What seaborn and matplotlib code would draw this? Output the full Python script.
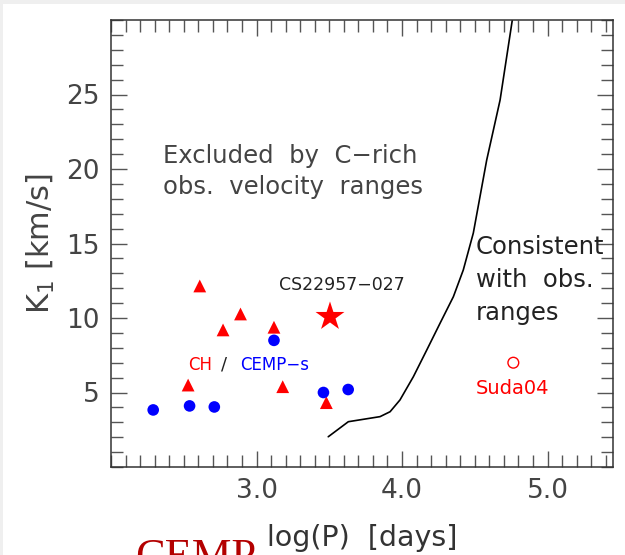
import numpy as np
import pandas as pd
import seaborn as sns
import matplotlib.pyplot as plt
from matplotlib.patches import Rectangle
from matplotlib.ticker import FixedLocator, MultipleLocator

# CEMP-s binaries (blue circles)
cemp_logp = [2.29, 2.54, 2.71, 3.12, 3.46, 3.63]
cemp_k1 = [3.83, 4.10, 4.03, 8.50, 5.00, 5.20]

# CH stars (red triangles)
ch_logp = [2.53, 2.61, 2.77, 2.89, 3.12, 3.18, 3.48]
ch_k1 = [5.50, 12.15, 9.20, 10.27, 9.38, 5.39, 4.32]

# CS22957-027 and Suda04
star_logp = [3.505]
star_k1 = [10.09]
suda_logp = [4.765]
suda_k1 = [7.0]

# boundary between excluded / consistent regions
curve_logp = [3.493, 3.631, 3.849, 3.918, 3.986, 4.078, 4.170, 4.261,
              4.353, 4.421, 4.490, 4.582, 4.674, 4.758]
curve_k1 = [2.03, 3.04, 3.38, 3.71, 4.50, 6.06, 7.85, 9.64,
            11.43, 13.22, 15.70, 20.60, 24.63, 30.0]

df_cemp = pd.DataFrame({'logP': cemp_logp, 'K1': cemp_k1})
df_ch = pd.DataFrame({'logP': ch_logp, 'K1': ch_k1})
df_curve = pd.DataFrame({'logP': curve_logp, 'K1': curve_k1})

sns.set_theme(style='ticks')
plt.rcParams['font.family'] = ['DejaVu Sans']

fig = plt.figure(figsize=(6.25, 5.55), dpi=100, facecolor='#efefef')
fig.patches.append(Rectangle((3 / 625, 0), 1, 1 - 4 / 555, transform=fig.transFigure,
                             facecolor='white', edgecolor='none', zorder=-10))
ax = fig.add_axes([111 / 625, 88 / 555, 502 / 625, 447 / 555])

sns.lineplot(data=df_curve, x='logP', y='K1', sort=False, color='black', lw=1.2,
             estimator=None, ax=ax)
sns.scatterplot(data=df_ch, x='logP', y='K1', marker='^', s=85, color='#ff0000',
                edgecolor='none', ax=ax, zorder=3)
sns.scatterplot(data=df_cemp, x='logP', y='K1', marker='o', s=70, color='#0000ff',
                edgecolor='none', ax=ax, zorder=4)
ax.scatter(star_logp, star_k1, marker='*', s=480, color='#ff0000', edgecolor='none', zorder=4)
ax.scatter(suda_logp, suda_k1, marker='o', s=60, facecolor='none', edgecolor='#ff0000',
           linewidth=1.0, zorder=4)

ax.set_xlim(2.0, 5.45)
ax.set_ylim(0, 30)
ax.xaxis.set_major_locator(FixedLocator([3.0, 4.0, 5.0]))
ax.xaxis.set_minor_locator(MultipleLocator(0.1))
ax.yaxis.set_major_locator(FixedLocator([5, 10, 15, 20, 25]))
ax.yaxis.set_minor_locator(MultipleLocator(1))
ax.set_xticklabels(['3.0', '4.0', '5.0'])
ax.tick_params(which='both', direction='in', top=True, right=True, color='#555555',
               width=1.0, labelsize=19, labelcolor='#444444')
ax.tick_params(which='major', length=11.5, pad=8)
ax.tick_params(which='minor', length=8.5)
for sp in ax.spines.values():
    sp.set_color('#333333')
    sp.set_linewidth(1.1)

ax.set_xlabel('log(P)  [days]', fontsize=20.5, color='#333333', labelpad=14)
ax.set_ylabel('K$_1$ [km/s]', fontsize=22, color='#444444', labelpad=7)

ax.text(2.357, 19.83, 'Excluded  by  C\u2212rich\nobs.  velocity  ranges', fontsize=17.5,
        color='#444444', ha='left', va='center', linespacing=1.4)
ax.text(4.509, 12.55, 'Consistent\nwith  obs.\nranges', fontsize=17.5,
        color='#222222', ha='left', va='center', linespacing=1.45)
ax.text(3.588, 12.2, 'CS22957\u2212027', fontsize=12.5, color='#222222',
        ha='center', va='center')
ax.text(2.529, 6.85, 'CH', fontsize=12, color='#ff0000', ha='left', va='center')
ax.text(2.777, 6.85, '/', fontsize=13, color='#222222', ha='center', va='center')
ax.text(2.887, 6.85, 'CEMP\u2212s', fontsize=12, color='#0000ff', ha='left', va='center')
ax.text(4.509, 5.3, 'Suda04', fontsize=14, color='#ff0000', ha='left', va='center')

fig.text(135 / 625, -14 / 555, 'CEMP', fontsize=32, color='#b30000',
         family='Liberation Serif', ha='left', va='baseline')

fig.savefig('out.png', dpi=100, facecolor=fig.get_facecolor())
